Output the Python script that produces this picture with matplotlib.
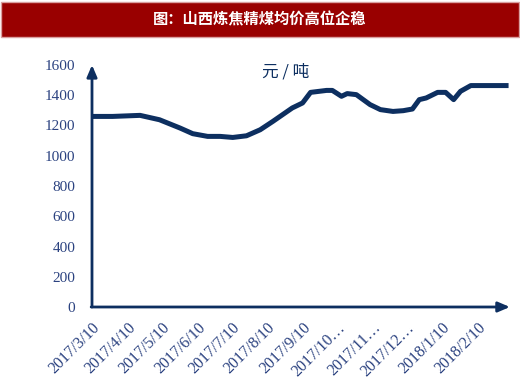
import matplotlib
matplotlib.use('Agg')
import matplotlib.pyplot as plt
import pandas as pd
from matplotlib.patches import Rectangle

# Price data (yuan / ton)
dates = ['2017-03-10', '2017-03-28', '2017-04-21', '2017-05-08', '2017-05-26',
         '2017-06-06', '2017-06-19', '2017-06-30', '2017-07-11', '2017-07-23',
         '2017-08-04', '2017-08-15', '2017-09-01', '2017-09-10', '2017-09-17',
         '2017-10-01', '2017-10-06', '2017-10-14', '2017-10-19', '2017-10-27',
         '2017-11-08', '2017-11-17', '2017-11-28', '2017-12-07', '2017-12-15',
         '2017-12-21', '2017-12-27', '2018-01-06', '2018-01-13', '2018-01-20',
         '2018-01-26', '2018-02-04', '2018-03-09']
prices = [1260, 1260, 1267, 1238, 1183,
          1146, 1128, 1128, 1121, 1132,
          1172, 1227, 1316, 1349, 1419,
          1432, 1432, 1393, 1411, 1404,
          1338, 1305, 1293, 1298, 1309,
          1371, 1382, 1419, 1419, 1371,
          1426, 1464, 1464]
tick_dates = ['2017-03-10', '2017-04-10', '2017-05-10', '2017-06-10', '2017-07-10',
              '2017-08-10', '2017-09-10', '2017-10-10', '2017-11-10', '2017-12-10',
              '2018-01-10', '2018-02-10']
tick_labels = ['2017/3/10', '2017/4/10', '2017/5/10', '2017/6/10', '2017/7/10',
               '2017/8/10', '2017/9/10', '2017/10…', '2017/11…', '2017/12…',
               '2018/1/10', '2018/2/10']
y_ticks = [0, 200, 400, 600, 800, 1000, 1200, 1400, 1600]

title = '图：山西炼焦精煤均价高位企稳'
unit = '元 / 吨'

navy = '#0d2f60'
label_col = '#2b4280'

x = pd.to_datetime(dates)
xt = pd.to_datetime(tick_dates)

fig = plt.figure(figsize=(5.2, 3.9), dpi=100)
fig.patch.set_facecolor('white')

# title bar
fig.patches.append(Rectangle((0.002, 1 - 37 / 390), 0.996, 35 / 390,
                             transform=fig.transFigure, facecolor='#990000',
                             edgecolor='#d9a0a0', linewidth=1))
fig.text(0.5, 1 - 19 / 390, title, color='white', fontsize=11, fontweight='bold',
         ha='center', va='center', family=['Noto Sans CJK SC', 'DejaVu Sans'])

ax = fig.add_axes([92 / 520, 1 - 307 / 390, 420 / 520, 242 / 390])
ax.plot(x, prices, color=navy, linewidth=3.6, solid_capstyle='butt', solid_joinstyle='round')

ax.set_xlim(pd.Timestamp('2017-03-10'), pd.Timestamp('2018-03-12'))
ax.set_ylim(0, 1600)
ax.set_yticks(y_ticks)
ax.set_xticks(xt)
ax.set_xticklabels(tick_labels, rotation=45, ha='right', va='top', rotation_mode='anchor')

for s in ax.spines.values():
    s.set_visible(False)
ax.tick_params(length=0, colors=label_col, labelsize=11, pad=12)
ax.tick_params(axis='x', labelsize=11.5, pad=9)
for lab in ax.get_xticklabels() + ax.get_yticklabels():
    lab.set_family(['Liberation Serif', 'DejaVu Serif'])

# axis arrows
ax.annotate('', xy=(0, 1.0), xytext=(0, 0), xycoords='axes fraction',
            arrowprops=dict(arrowstyle='-|>,head_length=0.7,head_width=0.3',
                            color=navy, lw=2, shrinkA=0, shrinkB=0))
ax.annotate('', xy=(0.995, 0), xytext=(-0.002, 0), xycoords='axes fraction',
            arrowprops=dict(arrowstyle='-|>,head_length=0.7,head_width=0.3',
                            color=navy, lw=2, shrinkA=0, shrinkB=0))

ax.text(0.46, 0.97, unit, transform=ax.transAxes, color=navy, fontsize=12,
        ha='center', va='center', family=['Noto Sans CJK SC', 'DejaVu Sans'])

fig.savefig('out.png', dpi=100)
